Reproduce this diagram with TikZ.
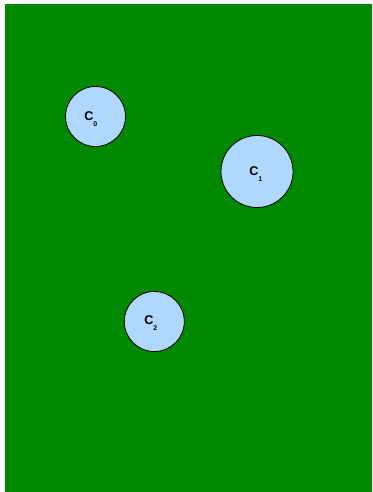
\documentclass[tikz,border=0pt]{standalone}
\usepackage{fontspec}
\setmainfont{Liberation Sans}
\definecolor{bggreen}{RGB}{0,136,0}
\definecolor{cfill}{RGB}{176,216,255}
\tikzset{
  cnode/.style={circle,draw=black,line width=0.6pt,fill=cfill,inner sep=0pt},
  clabel/.style={anchor=base west,inner sep=0pt,font=\fontsize{9.5}{11}\selectfont\bfseries}
}
\newcommand{\csub}[1]{C\raisebox{-4.5pt}{\fontsize{5.2}{6}\selectfont #1}}
\begin{document}
\begin{tikzpicture}[x=0.75pt,y=-0.75pt]
\useasboundingbox (0,0) rectangle (372,492);
\fill[white] (0,0) rectangle (372,492);
\fill[bggreen] (5,4) rectangle (372,492);
\node[cnode,minimum size=45pt] (c0) at (95.5,116.5) {};
\node[cnode,minimum size=54pt] (c1) at (257,171.5) {};
\node[cnode,minimum size=45pt] (c2) at (154.3,321.5) {};
\node[clabel] (l0) at (84,120) {\csub{0}};
\node[clabel] (l1) at (249,175) {\csub{1}};
\node[clabel] (l2) at (144,324) {\csub{2}};
\end{tikzpicture}
\end{document}
